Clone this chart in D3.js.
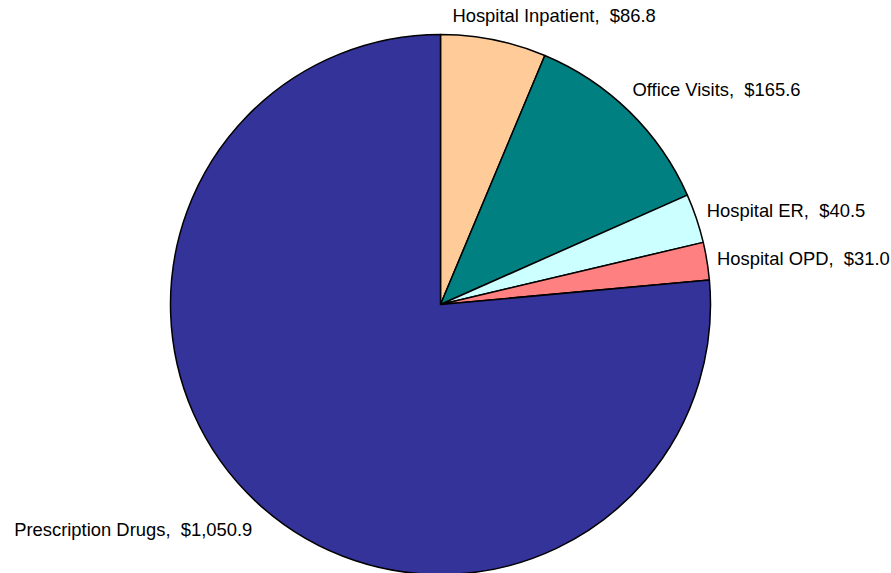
<!DOCTYPE html>
<html>
<head>
<meta charset="utf-8">
<script src="https://cdn.jsdelivr.net/npm/d3@7"></script>
<style>
  body { margin: 0; background: #fff; }
  svg { display: block; }
  text { font-family: "Liberation Sans", Arial, sans-serif; font-size: 18.4px; fill: #000; white-space: pre; }
</style>
</head>
<body>
<div id="chart"></div>
<script>
// data, clockwise from 12 o'clock
var categories = ["Hospital Inpatient", "Office Visits", "Hospital ER", "Hospital OPD", "Prescription Drugs"];
var values = [86.8, 165.6, 40.5, 31.0, 1050.9];
var colors = ["#FFCC99", "#008080", "#CCFFFF", "#FF8080", "#333399"];

var attrs = {
  width: 891,
  height: 573,
  cx: 440.5,
  cy: 304.5,
  radius: 270,
  labelGap: 26
};

var svg = d3.select("#chart").append("svg")
  .attr("width", attrs.width)
  .attr("height", attrs.height);

var rows = categories.map(function(c, i) {
  return { label: c, value: values[i], color: colors[i] };
});

var pie = d3.pie().sort(null).value(function(d) { return d.value; });
var arc = d3.arc().innerRadius(0).outerRadius(attrs.radius);
var arcs = pie(rows);

var g = svg.append("g").attr("transform", "translate(" + attrs.cx + "," + attrs.cy + ")");

g.selectAll("path.slice")
  .data(arcs)
  .enter().append("path")
  .attr("class", "slice")
  .attr("d", arc)
  .attr("fill", function(d) { return d.data.color; })
  .attr("stroke", "#000")
  .attr("stroke-width", 1.5)
  .attr("stroke-linejoin", "round");

var fmt = d3.format(",.1f");

// labels outside the pie, roughly the way excel "best fit" puts them
var labels = g.selectAll("text.lbl")
  .data(arcs)
  .enter().append("text")
  .attr("class", "lbl")
  .attr("dominant-baseline", "central")
  .text(function(d) { return d.data.label + ",  $" + fmt(d.data.value); });

labels.each(function(d) {
  var a = (d.startAngle + d.endAngle) / 2;
  var r = attrs.radius + attrs.labelGap;
  var px = r * Math.sin(a);
  var py = -r * Math.cos(a);
  var w = this.getComputedTextLength();
  var f = 0.09 + 0.6 * Math.max(0, Math.cos(a) - 0.75);
  var x = px >= 0 ? px - w * f : px - w * (1 - f) - 10;
  var dy = Math.cos(a) < 0 ? 6 : 1.5 - 5 * Math.pow(Math.sin(2 * a), 4);
  d3.select(this).attr("x", x).attr("y", py + dy);
});
</script>
</body>
</html>
